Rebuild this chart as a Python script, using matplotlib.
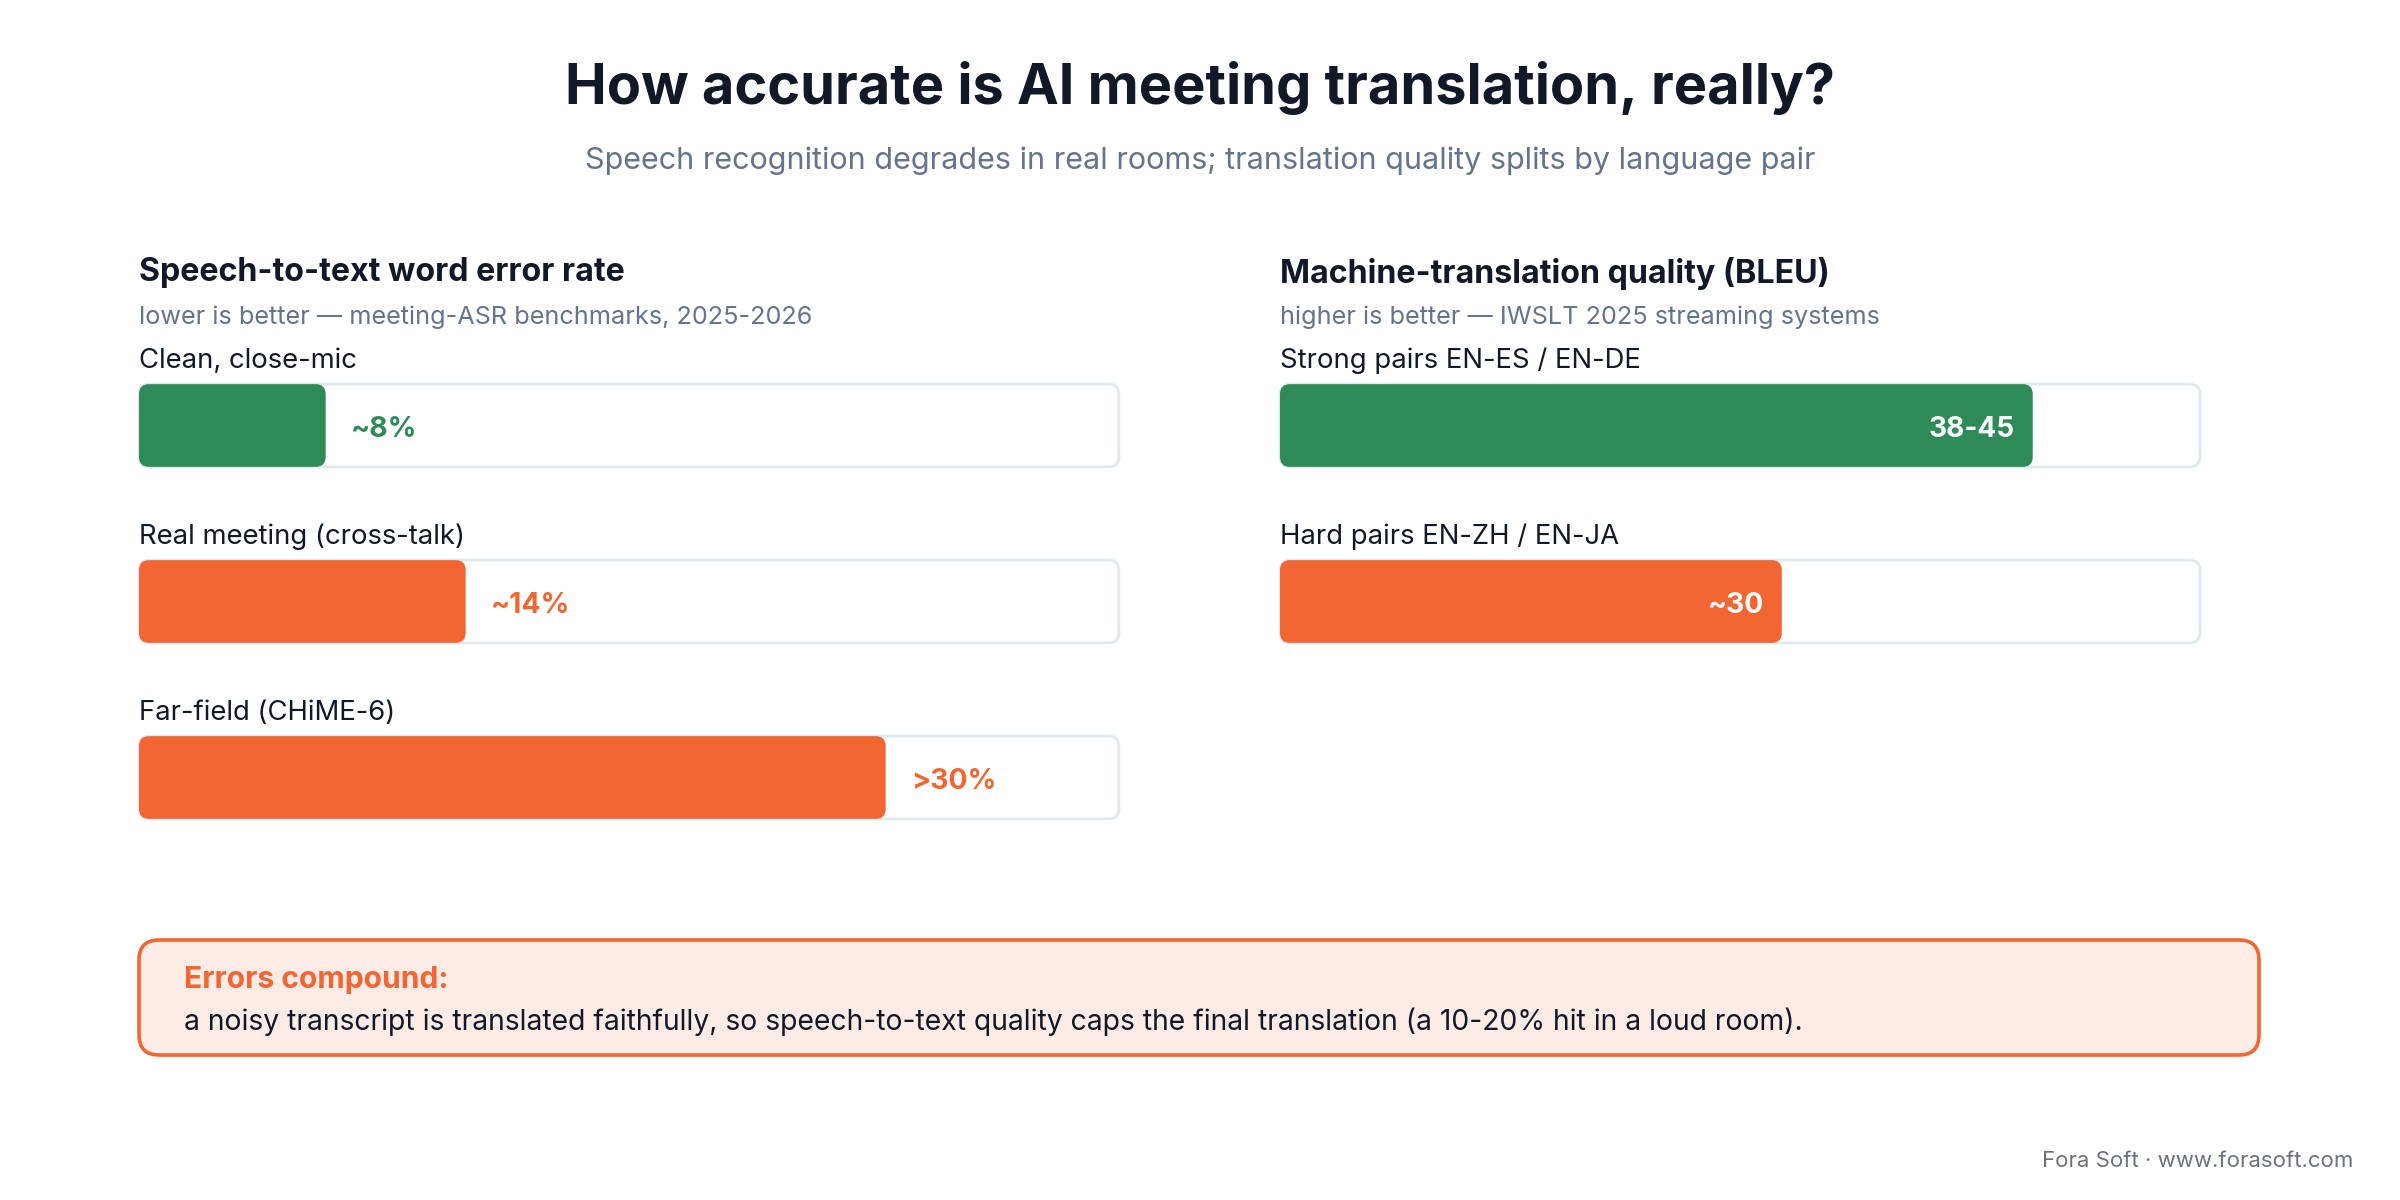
import matplotlib
matplotlib.use("Agg")
import matplotlib.pyplot as plt
from matplotlib.patches import FancyBboxPatch

plt.rcParams["font.family"] = ["Inter", "DejaVu Sans"]

# data
asr_labels = ["Clean, close-mic", "Real meeting (cross-talk)", "Far-field (CHiME-6)"]
asr_wer = [8, 14, 32]
asr_text = ["~8%", "~14%", ">30%"]
asr_max = 42

mt_labels = ["Strong pairs EN-ES / EN-DE", "Hard pairs EN-ZH / EN-JA"]
mt_bleu = [45, 30]
mt_text = ["38-45", "~30"]
mt_max = 55

GREEN = "#2e8b57"
ORANGE = "#f26633"
DARK = "#111827"
GRAY = "#64748b"
TRACK_EDGE = "#e2e8f0"

W, H = 2400, 1200
fig = plt.figure(figsize=(12, 6), dpi=200)
fig.patch.set_facecolor("white")

# overlay axes in pixel units for text layout
deco = fig.add_axes([0, 0, 1, 1])
deco.set_xlim(0, W)
deco.set_ylim(H, 0)
deco.axis("off")

deco.text(1200, 88, "How accurate is AI meeting translation, really?", ha="center", va="center",
          fontsize=20.15, fontweight="bold", color=DARK)
deco.text(1200, 161, "Speech recognition degrades in real rooms; translation quality splits by language pair",
          ha="center", va="center", fontsize=11.0, color=GRAY)

deco.text(139, 273, "Speech-to-text word error rate", ha="left", va="center", fontsize=11.6,
          fontweight="bold", color=DARK)
deco.text(139, 317, "lower is better \u2014 meeting-ASR benchmarks, 2025-2026", ha="left", va="center",
          fontsize=9.1, color=GRAY)
deco.text(1280, 273, "Machine-translation quality (BLEU)", ha="left", va="center", fontsize=11.6,
          fontweight="bold", color=DARK)
deco.text(1280, 317, "higher is better \u2014 IWSLT 2025 streaming systems", ha="left", va="center",
          fontsize=9.1, color=GRAY)

# callout
box = FancyBboxPatch((139, 940), 2120, 115, boxstyle="round,pad=0,rounding_size=20",
                     facecolor="#fdece6", edgecolor=ORANGE, linewidth=1.3)
deco.add_patch(box)
deco.text(184, 980, "Errors compound:", ha="left", va="center", fontsize=10.8, fontweight="bold", color=ORANGE)
deco.text(184, 1022, "a noisy transcript is translated faithfully, so speech-to-text quality caps the final "
          "translation (a 10-20% hit in a loud room).", ha="left", va="center", fontsize=10.2, color=DARK)

deco.text(2353, 1161, "Fora Soft \u00b7 www.forasoft.com", ha="right", va="center", fontsize=8.0, color="#6b7280")


def panel(x0, x1, labels, values, texts, vmax, inside):
    top, bottom = 337.5, 865.5
    ax = fig.add_axes([x0 / W, 1 - bottom / H, (x1 - x0) / W, (bottom - top) / H])
    ax.set_xlim(0, vmax)
    ax.set_ylim(2.5, -0.5)
    ax.axis("off")
    bh = 0.47
    xpx = ax.bbox.width / vmax
    ypx = ax.bbox.height / 3.0
    r = 10 / xpx
    asp = xpx / ypx
    for i, (lab, v, t) in enumerate(zip(labels, values, texts)):
        col = GREEN if i == 0 else ORANGE
        ax.text(0, i - 0.384 + 3 / ypx, lab, ha="left", va="center", fontsize=9.9, color=DARK)
        track = FancyBboxPatch((0, i - bh / 2), vmax, bh, boxstyle=f"round,pad=0,rounding_size={r}",
                               mutation_aspect=asp, facecolor="white", edgecolor=TRACK_EDGE,
                               linewidth=1.0, clip_on=False)
        ax.add_patch(track)
        bar = FancyBboxPatch((0, i - bh / 2), v, bh, boxstyle=f"round,pad=0,rounding_size={r}",
                             mutation_aspect=asp, facecolor=col, edgecolor="none", clip_on=False)
        ax.add_patch(bar)
        yv = i + 4 / ypx
        if inside:
            ax.text(v - 18 / xpx, yv, t, ha="right", va="center", fontsize=10.1, fontweight="bold", color="white")
        else:
            ax.text(v + 25 / xpx, yv, t, ha="left", va="center", fontsize=10.2, fontweight="bold", color=col)
    return ax


panel(139, 1119, asr_labels, asr_wer, asr_text, asr_max, inside=False)
panel(1280, 2200, mt_labels, mt_bleu, mt_text, mt_max, inside=True)

fig.savefig("out.png", dpi=200, facecolor="white")
